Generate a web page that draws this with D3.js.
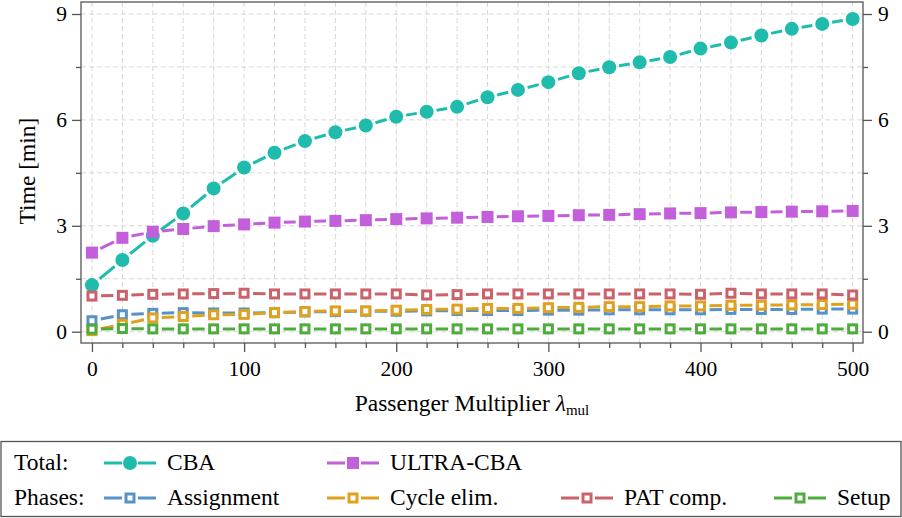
<!DOCTYPE html>
<html>
<head>
<meta charset="utf-8">
<script src="https://cdn.jsdelivr.net/npm/d3@7"></script>
<style>
  html, body { margin: 0; padding: 0; background: #fff; }
  svg { display: block; }
  svg text { font-family: "Liberation Serif", "DejaVu Serif", serif; }
</style>
</head>
<body>
<svg id="chart" width="902" height="518"></svg>
<script>
// Passenger multiplier values (x axis)
const lambdaValues = [0, 20, 40, 60, 80, 100, 120, 140, 160, 180, 200, 220, 240,
                      260, 280, 300, 320, 340, 360, 380, 400, 420, 440, 460, 480, 500];

// Running times in minutes
const cbaTotal   = [1.32, 2.03, 2.72, 3.35, 4.06, 4.65, 5.07, 5.40, 5.65, 5.84, 6.09, 6.23, 6.37,
                    6.64, 6.85, 7.07, 7.32, 7.49, 7.63, 7.78, 8.02, 8.19, 8.39, 8.58, 8.72, 8.86];
const ultraTotal = [2.24, 2.66, 2.83, 2.91, 2.99, 3.04, 3.09, 3.12, 3.14, 3.16, 3.19, 3.21, 3.23,
                    3.25, 3.27, 3.28, 3.30, 3.31, 3.33, 3.35, 3.36, 3.38, 3.39, 3.40, 3.41, 3.42];
const assignment = [0.31, 0.48, 0.52, 0.54, 0.53, 0.53, 0.54, 0.56, 0.57, 0.58, 0.58, 0.59, 0.60,
                    0.60, 0.60, 0.61, 0.61, 0.62, 0.62, 0.62, 0.62, 0.63, 0.63, 0.63, 0.64, 0.64];
const cycleElim  = [0.03, 0.21, 0.39, 0.43, 0.48, 0.49, 0.54, 0.57, 0.59, 0.59, 0.61, 0.63, 0.64,
                    0.66, 0.66, 0.68, 0.69, 0.71, 0.71, 0.73, 0.73, 0.75, 0.75, 0.76, 0.77, 0.78];
const patComp    = [1.01, 1.03, 1.06, 1.07, 1.08, 1.09, 1.07, 1.07, 1.07, 1.07, 1.07, 1.04, 1.05,
                    1.07, 1.07, 1.07, 1.07, 1.07, 1.07, 1.07, 1.06, 1.09, 1.07, 1.07, 1.07, 1.04];
const setup      = [0.07, 0.09, 0.08, 0.08, 0.08, 0.08, 0.08, 0.08, 0.08, 0.08, 0.08, 0.08, 0.08,
                    0.08, 0.08, 0.08, 0.08, 0.08, 0.08, 0.08, 0.08, 0.08, 0.08, 0.08, 0.08, 0.08];

// Tick values
const xMajorTicks = [0, 100, 200, 300, 400, 500];
const xMinorTicks = [20, 40, 60, 80, 120, 140, 160, 180, 220, 240, 260, 280,
                     320, 340, 360, 380, 420, 440, 460, 480];
const yMajorTicks = [0, 3, 6, 9];
const yMinorTicks = [1.5, 4.5, 7.5];

const series = [
  { name: "CBA",        values: cbaTotal,   color: "#1fbcad", marker: "circle" },
  { name: "ULTRA-CBA",  values: ultraTotal, color: "#c45fdc", marker: "square" },
  { name: "Assignment", values: assignment, color: "#5592c8", marker: "open" },
  { name: "Cycle elim.",values: cycleElim,  color: "#e0a11f", marker: "open" },
  { name: "PAT comp.",  values: patComp,    color: "#c9626a", marker: "open" },
  { name: "Setup",      values: setup,      color: "#4eac3c", marker: "open" }
];

const serif = '"Liberation Serif", "DejaVu Serif", serif';
const svg = d3.select("#chart").attr("font-family", serif);
const frame = { left: 81, right: 863, top: 2, bottom: 343 };
const axisColor = "#555";
const tickFont = 21.5;
const textFont = 23.5;

const x = d3.scaleLinear().domain([-7.2, 506.8]).range([frame.left, frame.right]);
const y = d3.scaleLinear().domain([-0.32, 9.34]).range([frame.bottom, frame.top]);

// Dashed background grid
const grid = svg.append("g")
  .attr("stroke", "#d8d8d8").attr("stroke-width", 1).attr("stroke-dasharray", "5,3");
grid.selectAll("line.gv").data(xMajorTicks.concat(xMinorTicks)).join("line")
  .attr("x1", d => x(d)).attr("x2", d => x(d))
  .attr("y1", frame.top).attr("y2", frame.bottom);
grid.selectAll("line.gh").data(yMajorTicks.concat(yMinorTicks)).join("line")
  .attr("x1", frame.left).attr("x2", frame.right)
  .attr("y1", d => y(d)).attr("y2", d => y(d));

// Axes
function styleAxis(g) {
  g.select(".domain").remove();
  g.attr("font-family", serif).attr("font-size", tickFont);
  g.selectAll(".tick line").attr("stroke", axisColor).attr("stroke-width", 1.3);
  g.selectAll(".tick text").attr("fill", "#000").attr("font-family", serif);
}
svg.append("g").attr("transform", `translate(0,${frame.bottom})`)
  .call(d3.axisBottom(x).tickValues(xMajorTicks).tickSize(9).tickPadding(9).tickSizeOuter(0))
  .call(styleAxis);
svg.append("g").attr("transform", `translate(0,${frame.bottom})`)
  .call(d3.axisBottom(x).tickValues(xMinorTicks).tickSize(5).tickFormat("").tickSizeOuter(0))
  .call(styleAxis);
svg.append("g").attr("transform", `translate(${frame.left},0)`)
  .call(d3.axisLeft(y).tickValues(yMajorTicks).tickSize(9).tickPadding(5).tickSizeOuter(0))
  .call(styleAxis);
svg.append("g").attr("transform", `translate(${frame.left},0)`)
  .call(d3.axisLeft(y).tickValues(yMinorTicks).tickSize(5).tickFormat("").tickSizeOuter(0))
  .call(styleAxis);
svg.append("g").attr("transform", `translate(${frame.right},0)`)
  .call(d3.axisRight(y).tickValues(yMajorTicks).tickSize(9).tickPadding(6).tickSizeOuter(0))
  .call(styleAxis);
svg.append("g").attr("transform", `translate(${frame.right},0)`)
  .call(d3.axisRight(y).tickValues(yMinorTicks).tickSize(5).tickFormat("").tickSizeOuter(0))
  .call(styleAxis);

// Axis titles
svg.append("text")
  .attr("transform", "translate(35,171) rotate(-90)")
  .attr("text-anchor", "middle").attr("font-size", textFont).attr("font-family", serif)
  .text("Time [min]");
const xTitle = svg.append("text")
  .attr("x", (frame.left + frame.right) / 2).attr("y", 411)
  .attr("text-anchor", "middle").attr("font-size", textFont).attr("font-family", serif);
xTitle.append("tspan").text("Passenger Multiplier ");
xTitle.append("tspan").attr("font-style", "italic").text("λ");
xTitle.append("tspan").attr("font-size", 15).attr("dy", 4).text("mul");

// Markers
function drawMarker(g, marker, color, cx, cy) {
  if (marker === "circle") {
    g.append("circle").attr("cx", cx).attr("cy", cy).attr("r", 7).attr("fill", color);
  } else if (marker === "square") {
    g.append("rect").attr("x", cx - 6).attr("y", cy - 6).attr("width", 12).attr("height", 12)
      .attr("fill", color);
  } else {
    g.append("rect").attr("x", cx - 4).attr("y", cy - 4).attr("width", 8).attr("height", 8)
      .attr("fill", "#fff").attr("stroke", color).attr("stroke-width", 3);
  }
}
const markerGap = { circle: 10, square: 9.3, open: 9 };

// Series: one centred dash per segment, then the markers
const plot = svg.append("g");
series.forEach(s => {
  const g = plot.append("g");
  const pts = lambdaValues.map((l, i) => [x(l), y(s.values[i])]);
  const gap = markerGap[s.marker];
  for (let i = 0; i < pts.length - 1; i++) {
    const [x1, y1] = pts[i], [x2, y2] = pts[i + 1];
    const len = Math.hypot(x2 - x1, y2 - y1);
    const dash = Math.max(0, len - 2 * gap);
    g.append("line")
      .attr("x1", x1).attr("y1", y1).attr("x2", x2).attr("y2", y2)
      .attr("stroke", s.color).attr("stroke-width", 3)
      .attr("stroke-dasharray", `0,${gap},${dash},${len}`);
  }
  pts.forEach(([cx, cy]) => drawMarker(g, s.marker, s.color, cx, cy));
});

// Plot frame
svg.append("rect")
  .attr("x", frame.left).attr("y", frame.top)
  .attr("width", frame.right - frame.left).attr("height", frame.bottom - frame.top)
  .attr("fill", "none").attr("stroke", axisColor).attr("stroke-width", 1.3);

// Legend
const legend = svg.append("g");
legend.append("rect").attr("x", 1).attr("y", 441.5).attr("width", 900).attr("height", 75)
  .attr("fill", "#fff").attr("stroke", axisColor).attr("stroke-width", 1.3);
const rows = [
  { label: "Total:",  baseline: 470, items: [[0, 130], [1, 353]] },
  { label: "Phases:", baseline: 505, items: [[2, 130], [3, 353], [4, 587], [5, 800]] }
];
rows.forEach(row => {
  legend.append("text").attr("x", 14).attr("y", row.baseline)
    .attr("font-size", textFont).attr("font-family", serif).text(row.label);
  const cy = row.baseline - 7;
  row.items.forEach(([idx, cx]) => {
    const s = series[idx];
    legend.append("line")
      .attr("x1", cx - 26).attr("x2", cx + 26).attr("y1", cy).attr("y2", cy)
      .attr("stroke", s.color).attr("stroke-width", 3)
      .attr("stroke-dasharray", "18,16,18");
    drawMarker(legend, s.marker, s.color, cx, cy);
    legend.append("text").attr("x", cx + 37).attr("y", row.baseline)
      .attr("font-size", textFont).attr("font-family", serif).text(s.name);
  });
});
</script>
</body>
</html>
